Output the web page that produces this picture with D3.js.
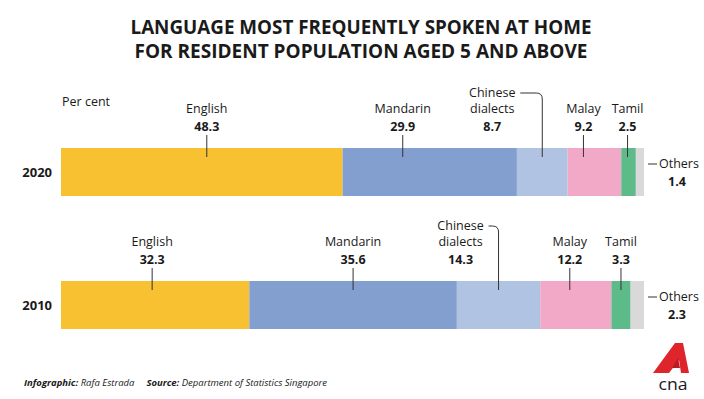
<!DOCTYPE html>
<html>
<head>
<meta charset="utf-8">
<script src="https://cdn.jsdelivr.net/npm/d3@7"></script>
<style>
  body { margin: 0; background: #fff; }
  svg text { font-family: "Open Sans", "Noto Sans", sans-serif; fill: #1a1a1a; }
</style>
</head>
<body>
<div id="chart"></div>
<script>
// data
const years = ["2020", "2010"];
const languages = ["English", "Mandarin", "Chinese dialects", "Malay", "Tamil", "Others"];
const share2020 = [48.3, 29.9, 8.7, 9.2, 2.5, 1.4];
const share2010 = [32.3, 35.6, 14.3, 12.2, 3.3, 2.3];
const colours = ["#f8c132", "#829fcf", "#b0c3e2", "#f1a9c7", "#5dbb8a", "#d9d9d9"];

const width = 704, height = 399;
const svg = d3.select("#chart").append("svg")
  .attr("width", width)
  .attr("height", height);

// title
const title = svg.append("g").attr("text-anchor", "middle");
title.append("text").attr("x", 361).attr("y", 34)
  .attr("font-size", 20).attr("font-weight", 700)
  .attr("textLength", 461).attr("lengthAdjust", "spacingAndGlyphs")
  .text("LANGUAGE MOST FREQUENTLY SPOKEN AT HOME");
title.append("text").attr("x", 361).attr("y", 58)
  .attr("font-size", 20).attr("font-weight", 700)
  .attr("textLength", 453).attr("lengthAdjust", "spacingAndGlyphs")
  .text("FOR RESIDENT POPULATION AGED 5 AND ABOVE");

svg.append("text").attr("x", 62).attr("y", 106)
  .attr("font-size", 12.5).text("Per cent");

const x = d3.scaleLinear().domain([0, 100]).range([61, 644]);
const y = d3.scalePoint().domain(years).range([148, 281]);
const barH = 48;
const fs = 12.5;

// small hand tweaks so labels sit where the original has them
const nudge = {
  "2020-Mandarin": -27, "2020-English": 5, "2020-Malay": -11, "2020-Tamil": -1,
  "2010-Malay": -6, "2010-English": -3
};

const rows = [share2020, share2010].map(function (vals, i) {
  let acc = 0;
  return {
    year: years[i],
    segs: vals.map(function (v, j) {
      const s = { name: languages[j], value: v, x0: acc, x1: acc + v, colour: colours[j] };
      acc += v;
      return s;
    })
  };
});

const row = svg.selectAll(".row")
  .data(rows)
  .enter().append("g")
  .attr("class", "row")
  .attr("transform", function (d) { return "translate(0," + y(d.year) + ")"; });

row.append("text")
  .attr("x", 52).attr("y", barH / 2 + 5)
  .attr("text-anchor", "end")
  .attr("font-size", 13).attr("font-weight", 700)
  .text(function (d) { return d.year; });

row.selectAll("rect")
  .data(function (d) { return d.segs; })
  .enter().append("rect")
  .attr("x", function (d) { return x(d.x0); })
  .attr("width", function (d) { return x(d.x1) - x(d.x0); })
  .attr("y", 0)
  .attr("height", barH)
  .attr("fill", function (d) { return d.colour; });

row.each(function (r) {
  const g = d3.select(this);
  r.segs.forEach(function (s) {
    const cx = (x(s.x0) + x(s.x1)) / 2 + (nudge[r.year + "-" + s.name] || 0);
    if (s.name === "Others") {
      const right = x(s.x1);
      g.append("line")
        .attr("x1", right + 4).attr("x2", right + 13)
        .attr("y1", barH / 2 - 8).attr("y2", barH / 2 - 8)
        .attr("stroke", "#333").attr("stroke-width", 1);
      g.append("text").attr("x", right + 15).attr("y", barH / 2 - 4)
        .attr("font-size", fs).text(s.name);
      g.append("text").attr("x", right + 33).attr("y", barH / 2 + 14)
        .attr("text-anchor", "middle")
        .attr("font-size", fs).attr("font-weight", 700)
        .text(s.value.toFixed(1));
      return;
    }
    if (s.name === "Chinese dialects") {
      const lx = cx - (r.year === "2020" ? 50 : 38);
      const hy = -55;
      g.append("path")
        .attr("d", "M" + (lx + 28) + "," + hy + " H" + (cx - 6) +
          " Q" + cx + "," + hy + " " + cx + "," + (hy + 6) + " V" + 9)
        .attr("fill", "none").attr("stroke", "#333").attr("stroke-width", 1);
      const t = g.append("text").attr("text-anchor", "middle").attr("font-size", fs);
      t.append("tspan").attr("x", lx).attr("y", hy + 4).text("Chinese");
      t.append("tspan").attr("x", lx).attr("y", hy + 20).text("dialects");
      g.append("text").attr("x", lx).attr("y", -17)
        .attr("text-anchor", "middle")
        .attr("font-size", fs).attr("font-weight", 700)
        .text(s.value.toFixed(1));
      return;
    }
    g.append("line")
      .attr("x1", cx).attr("x2", cx)
      .attr("y1", -13).attr("y2", 9)
      .attr("stroke", "#333").attr("stroke-width", 1);
    g.append("text").attr("x", cx).attr("y", -35)
      .attr("text-anchor", "middle").attr("font-size", fs)
      .text(s.name);
    g.append("text").attr("x", cx).attr("y", -17)
      .attr("text-anchor", "middle")
      .attr("font-size", fs).attr("font-weight", 700)
      .text(s.value.toFixed(1));
  });
});

// footer
const foot = svg.append("text").attr("x", 24).attr("y", 386)
  .attr("font-size", 9.5).attr("font-style", "italic");
foot.append("tspan").attr("font-weight", 700).text("Infographic: ");
foot.append("tspan").text("Rafa Estrada");
foot.append("tspan").attr("dx", 12).attr("font-weight", 700).text("Source: ");
foot.append("tspan").text("Department of Statistics Singapore");

// cna logo
const logo = svg.append("g");
logo.append("path")
  .attr("d", "M653,373 L675,343 L683,343 L689,373 L681,373 L679,360 L669,373 Z")
  .attr("fill", "#e0242b");
logo.append("path")
  .attr("d", "M672,368 L678,358 L680,368 Z")
  .attr("fill", "#b81c22");
logo.append("text").attr("x", 673).attr("y", 390)
  .attr("text-anchor", "middle")
  .attr("font-size", 17).attr("font-weight", 400)
  .attr("fill", "#333")
  .attr("textLength", 29).attr("lengthAdjust", "spacingAndGlyphs")
  .text("cna");
</script>
</body>
</html>
